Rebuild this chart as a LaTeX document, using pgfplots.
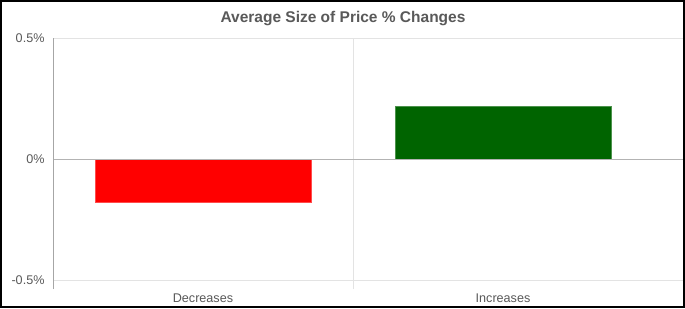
\documentclass[border=0pt]{standalone}
\usepackage{fontspec}
\setmainfont{Liberation Sans}
\usepackage{pgfplots}
\pgfplotsset{compat=1.18}
\definecolor{txtgray}{HTML}{595959}
\definecolor{gridgray}{HTML}{E3E3E3}
\definecolor{axgray}{HTML}{A6A6A6}
\definecolor{zerogray}{HTML}{B3B3B3}
\definecolor{bargreen}{HTML}{006400}
\begin{document}
\begin{tikzpicture}
\fill[white] (0pt,0pt) rectangle (685pt,308pt);
\begin{axis}[
  at={(53pt,19pt)}, anchor=south west,
  scale only axis, width=630pt, height=251pt,
  xmin=-0.5, xmax=1.6, ymin=-0.537, ymax=0.5,
  axis line style={draw=none},
  xtick={0,1}, xticklabels={Decreases,Increases},
  ytick={-0.5,0,0.5}, yticklabels={-0.5\%,0\%,0.5\%},
  major tick length=0pt,
  ymajorgrids, grid style={gridgray, line width=0.8pt},
  tick label style={text=txtgray, font=\fontsize{12.6}{14}\selectfont},
  yticklabel style={xshift=-5pt},
  xticklabel style={yshift=-1pt},
  clip=false,
]
\draw[gridgray, line width=0.8pt] (axis cs:0.5,-0.537) -- (axis cs:0.5,0.5);
\addplot[ybar, bar width=0.72, fill=red, draw=red!70!white, line width=0.6pt] coordinates {(0,-0.179)};
\addplot[ybar, bar width=0.72, fill=bargreen, draw=bargreen!70!white, line width=0.6pt] coordinates {(1,0.2185)};
\draw[zerogray, line width=0.8pt] (axis cs:-0.5,0) -- (axis cs:1.6,0);
\draw[axgray, line width=0.8pt] (axis cs:-0.5,-0.537) -- (axis cs:-0.5,0.5);
\end{axis}
\node[text=txtgray, font=\fontsize{15.5}{18}\selectfont\bfseries] at (343pt,289pt) {Average Size of Price \% Changes};
\draw[black, line width=2pt] (1pt,1pt) rectangle (684pt,307pt);
\end{tikzpicture}
\end{document}
